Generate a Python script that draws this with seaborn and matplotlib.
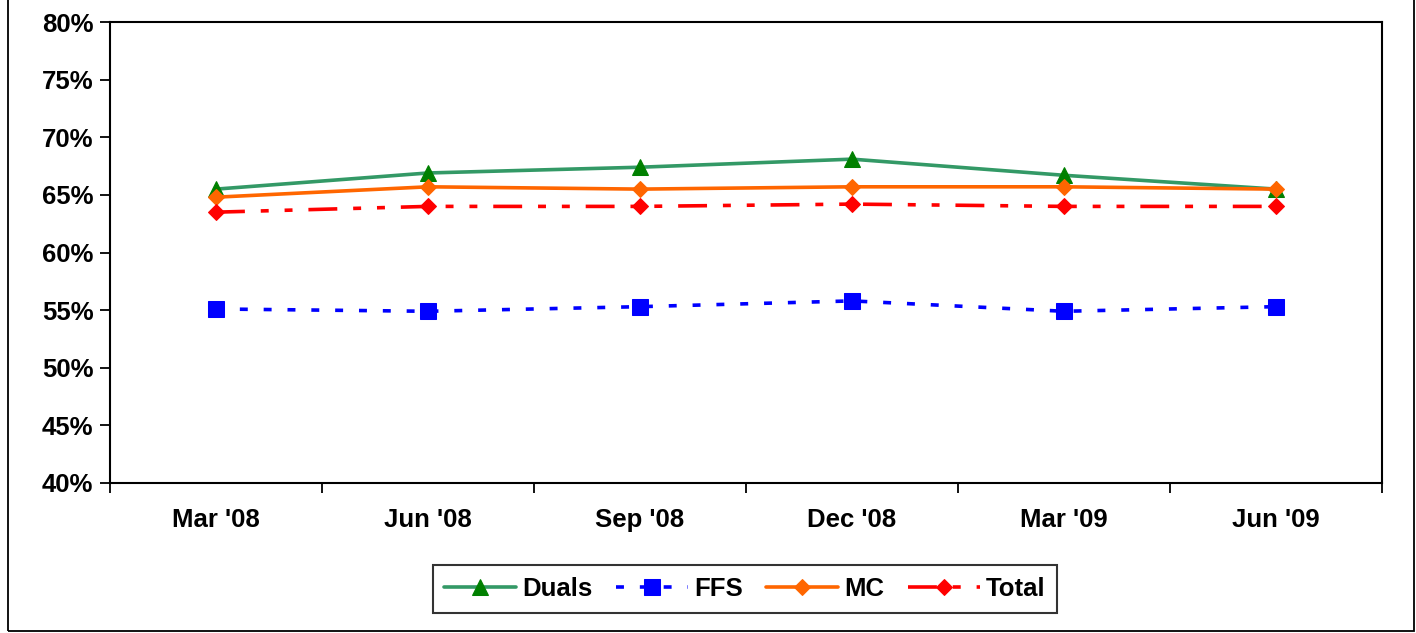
import matplotlib
matplotlib.use("Agg")
import matplotlib.pyplot as plt
import matplotlib.ticker as mticker
from matplotlib.patches import Rectangle
import seaborn as sns
import pandas as pd

quarters = ["Mar '08", "Jun '08", "Sep '08", "Dec '08", "Mar '09", "Jun '09"]
duals = [65.5, 66.9, 67.4, 68.1, 66.7, 65.5]
ffs = [55.1, 54.9, 55.3, 55.8, 54.9, 55.3]
mc = [64.8, 65.7, 65.5, 65.7, 65.7, 65.5]
total = [63.5, 64.0, 64.0, 64.2, 64.0, 64.0]
yticks = [40, 45, 50, 55, 60, 65, 70, 75, 80]

sns.set_theme(style="white")
plt.rcParams['font.family'] = ['Liberation Sans', 'DejaVu Sans']
plt.rcParams['text.color'] = 'black'

fig = plt.figure(figsize=(14.16, 6.33), dpi=100)
ax = fig.add_axes([110/1416, 1-483/633, (1382-110)/1416, (483-22)/633])

series = [
    ("Duals", duals, dict(color="#339966", marker="^", markersize=11,
                          markerfacecolor="#008000", markeredgecolor="#008000", linestyle="-")),
    ("FFS", ffs, dict(color="#0000FF", marker="s", markersize=11,
                      markerfacecolor="#0000FF", markeredgecolor="#0000FF",
                      linestyle=(0, (2.2, 4.4)))),
    ("MC", mc, dict(color="#FF6600", marker="D", markersize=8.5,
                    markerfacecolor="#FF6600", markeredgecolor="#FF6600", linestyle="-")),
    ("Total", total, dict(color="#FF0000", marker="D", markersize=8.5,
                          markerfacecolor="#FF0000", markeredgecolor="#FF0000",
                          linestyle=(0, (8.0, 4.4, 2.2, 4.4, 2.2, 4.4)))),
]

for name, vals, st in series:
    df = pd.DataFrame({"q": quarters, "v": vals})
    ls = st.pop("linestyle")
    sns.lineplot(data=df, x="q", y="v", ax=ax, label=name, linewidth=2.6,
                 sort=False, **st)
    ax.lines[-1].set_linestyle(ls)

ax.set_xlim(-0.5, len(quarters) - 0.5)
ax.set_ylim(40, 80)
ax.set_yticks(yticks)
ax.yaxis.set_major_formatter(mticker.FuncFormatter(lambda v, p: f"{v:.0f}%"))
ax.set_xticks(range(len(quarters)))
ax.set_xticklabels(quarters)
ax.set_xticks([i - 0.5 for i in range(len(quarters) + 1)], minor=True)
ax.set_xlabel("")
ax.set_ylabel("")

ax.tick_params(axis="x", which="major", length=0, pad=18, labelsize=18.5)
ax.tick_params(axis="x", which="minor", length=7, width=1.3, color="black", direction="out", bottom=True)
ax.tick_params(axis="y", which="major", length=7, width=1.3, color="black", direction="out",
               left=True, pad=5, labelsize=18.5)
for lab in ax.get_xticklabels() + ax.get_yticklabels():
    lab.set_fontweight("bold")
    lab.set_color("black")

for sp in ax.spines.values():
    sp.set_visible(True)
    sp.set_color("black")
    sp.set_linewidth(1.5)

leg = ax.legend(loc="center", bbox_to_anchor=(745/1416, 1-589/633),
                bbox_transform=fig.transFigure, ncol=4, frameon=True,
                fancybox=False, handlelength=2.8, handletextpad=0.25,
                columnspacing=0.9, borderpad=0.45,
                prop={"weight": "bold", "size": 18.5})
leg.get_frame().set_edgecolor("black")
leg.get_frame().set_linewidth(1.5)
for t in leg.get_texts():
    t.set_color("black")

fig.patches.append(Rectangle((8/1416, 2/633), (1414-8)/1416, 1.05,
                             transform=fig.transFigure, fill=False,
                             edgecolor="black", linewidth=1.3))

fig.savefig("out.png", dpi=100, facecolor="white")
